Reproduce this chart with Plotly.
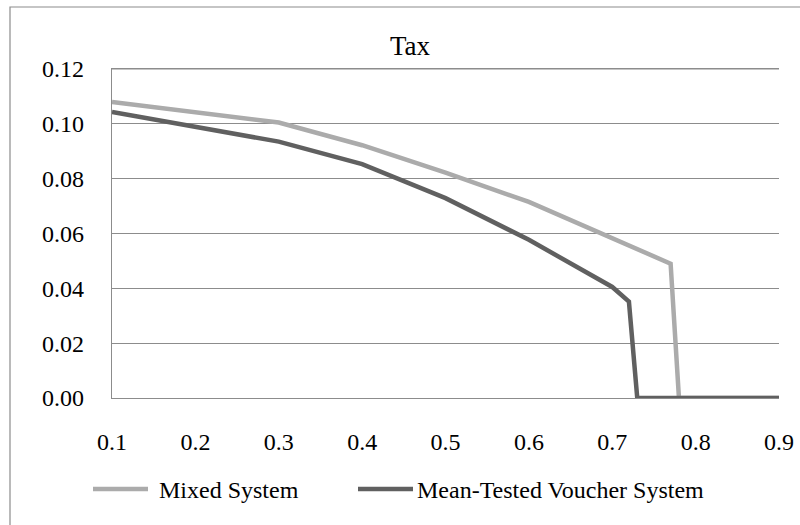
import plotly.graph_objects as go

# Tax rate by share, for the two schooling-finance systems
share_mixed = [0.1, 0.2, 0.3, 0.4, 0.5, 0.6, 0.7, 0.77, 0.78, 0.8, 0.9]
tax_mixed = [0.108, 0.1042, 0.1005, 0.0922, 0.0822, 0.0715, 0.0582, 0.049, 0.0, 0.0, 0.0]

share_voucher = [0.1, 0.2, 0.3, 0.4, 0.5, 0.6, 0.7, 0.72, 0.73, 0.8, 0.9]
tax_voucher = [0.1043, 0.0990, 0.0935, 0.0853, 0.0729, 0.0577, 0.0405, 0.0352, 0.0, 0.0, 0.0]

series_names = ["Mixed System", "Mean-Tested Voucher System"]
series_colors = ["#ababab", "#606060"]

title_text = "Tax"
y_ticks = [0.0, 0.02, 0.04, 0.06, 0.08, 0.10, 0.12]
x_ticks = [0.1, 0.2, 0.3, 0.4, 0.5, 0.6, 0.7, 0.8, 0.9]

W, H = 800, 525
L, R, T, B = 112, 21, 69, 127
pw, ph = W - L - R, H - T - B

FONT = "'Liberation Serif', 'Times New Roman', 'DejaVu Serif', serif"
GRID = "#8c8c8c"


def px_x(px):
    return (px - L) / pw


def px_y(py):
    return (H - B - py) / ph


fig = go.Figure()
for xs, ys, name, col in [
    (share_mixed, tax_mixed, series_names[0], series_colors[0]),
    (share_voucher, tax_voucher, series_names[1], series_colors[1]),
]:
    fig.add_trace(go.Scatter(
        x=xs, y=ys, mode="lines", name=name,
        line=dict(color=col, width=4.5),
        showlegend=False, cliponaxis=False,
    ))

shapes = [
    # outer chart frame
    dict(type="rect", xref="paper", yref="paper",
         x0=px_x(10), x1=px_x(W + 20), y0=px_y(H + 20), y1=px_y(7),
         line=dict(color=GRID, width=1.2), fillcolor="rgba(0,0,0,0)", layer="below"),
    # top edge of the plot area
    dict(type="line", xref="paper", yref="paper", x0=0, x1=1, y0=1, y1=1,
         line=dict(color=GRID, width=1.2), layer="below"),
]

# legend: line sample + label for each series
legend_items = [(93, 148, 157), (358, 413, 415)]
annotations = []
for (x0, x1, tx), name, col in zip(legend_items, series_names, series_colors):
    shapes.append(dict(type="line", xref="paper", yref="paper",
                       x0=px_x(x0), x1=px_x(x1), y0=px_y(489), y1=px_y(489),
                       line=dict(color=col, width=4.5)))
    annotations.append(dict(text=name, xref="paper", yref="paper",
                            x=px_x(tx), y=px_y(490), xanchor="left", yanchor="middle",
                            showarrow=False, font=dict(family=FONT, size=24, color="#000000")))

fig.update_layout(
    template="none",
    width=W, height=H,
    margin=dict(l=L, r=R, t=T, b=B),
    paper_bgcolor="#ffffff", plot_bgcolor="#ffffff",
    font=dict(family=FONT, size=24, color="#000000"),
    title=dict(text=title_text, xref="container", yref="container",
               x=410 / W, y=1 - 46 / H, xanchor="center", yanchor="middle",
               font=dict(family=FONT, size=27, color="#000000")),
    shapes=shapes,
    annotations=annotations,
)

fig.update_xaxes(
    range=[0.1, 0.9], tickvals=x_ticks, tickformat=".1f",
    showgrid=False, zeroline=False,
    showline=True, mirror=True, linecolor=GRID, linewidth=1.2,
    ticks="", ticklabelstandoff=22,
    tickfont=dict(family=FONT, size=24, color="#000000"),
)
fig.update_yaxes(
    range=[0, 0.12], tickvals=y_ticks, tickformat=".2f",
    showgrid=True, gridcolor=GRID, gridwidth=1.2,
    zeroline=False, showline=True, linecolor=GRID, linewidth=1.2,
    ticks="", ticklabelstandoff=22,
    tickfont=dict(family=FONT, size=24, color="#000000"),
)

fig.write_html("out.html")
